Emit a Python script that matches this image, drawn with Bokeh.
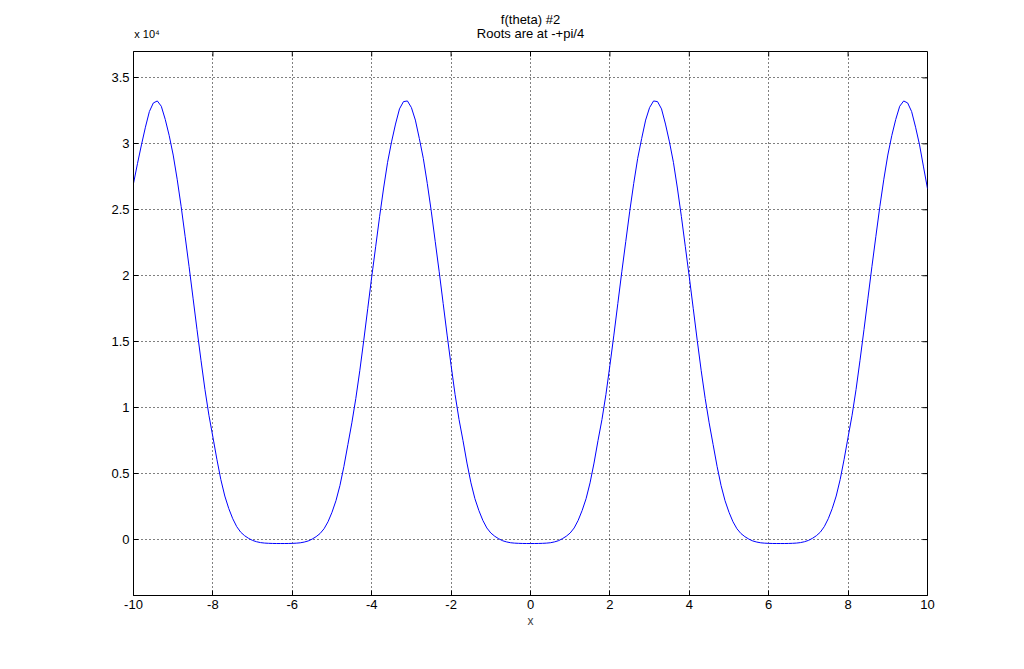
import math
from bokeh.plotting import figure
from bokeh.models import Range1d, FixedTicker, LinearAxis
from bokeh.embed import file_html
from bokeh.resources import INLINE

# ---- data ----
x_vals = [round(-10 + 0.1 * i, 1) for i in range(201)]

# y for x = -10.0 ... -0.1
y_left = [27000, 28500, 29920, 31260, 32450, 33100, 33250, 32850, 31850, 30620,
          29150, 27320, 25260, 22990, 20690, 18300, 15910, 13590, 11370, 9420,
          7770, 6090, 4550, 3300, 2350, 1580, 980, 560, 290, 90,
          -65, -165, -230, -265, -283, -294, -300, -300, -300, -296,
          -287, -273, -245, -190, -105, 35, 220, 460, 820, 1350,
          2070, 2950, 4100, 5550, 7200, 8850, 10700, 12800, 15100, 17500,
          19900, 22200, 24500, 26650, 28600, 30150, 31500, 32650, 33200, 33250,
          32750, 31800, 30400, 28900, 27000, 24900, 22600, 20300, 17900, 15500,
          13200, 11000, 9100, 7500, 5800, 4300, 3100, 2200, 1450, 880,
          500, 250, 60, -90, -180, -240, -270, -285, -295, -300]
# y for x = 0.0 ... 10.0
y_right = [-300, -300, -295, -285, -270, -240, -180, -90, 60, 250,
           500, 880, 1450, 2200, 3100, 4300, 5800, 7500, 9100, 11000,
           13200, 15500, 17900, 20300, 22600, 24900, 27000, 28900, 30400, 31800,
           32750, 33250, 33200, 32650, 31500, 30150, 28600, 26650, 24500, 22200,
           19900, 17500, 15100, 12800, 10700, 8850, 7200, 5550, 4100, 2950,
           2070, 1350, 820, 460, 220, 35, -105, -190, -245, -273,
           -287, -296, -300, -300, -300, -294, -283, -265, -230, -165,
           -65, 90, 290, 560, 980, 1580, 2350, 3300, 4550, 6090,
           7770, 9420, 11370, 13590, 15910, 18300, 20690, 22990, 25260, 27320,
           29150, 30620, 31850, 32850, 33250, 33100, 32450, 31260, 29920, 28250,
           26600]
y_vals = y_left + y_right

x_ticks = [-10, -8, -6, -4, -2, 0, 2, 4, 6, 8, 10]
x_tick_labels = ["-10", "-8", "-6", "-4", "-2", "0", "2", "4", "6", "8", "10"]
y_ticks = [0, 5000, 10000, 15000, 20000, 25000, 30000, 35000]
y_tick_labels = ["0", "0.5", "1", "1.5", "2", "2.5", "3", "3.5"]

title_line1 = "f(theta) #2"
title_line2 = "Roots are at -+pi/4"
exp_label = "x 10\u2074"
x_label = "x"

X_MIN, X_MAX = -10, 10
Y_MIN, Y_MAX = -4240, 37000
EXP_LABEL_X = -9.66   # centre of the "x 10^4" note along the top edge
TITLE_X = 0           # centre of the title along the top edge

FONT = "Liberation Sans"
FS = "13px"

p = figure(width=1024, height=669, title=None,
           x_range=Range1d(X_MIN, X_MAX), y_range=Range1d(Y_MIN, Y_MAX),
           output_backend="svg", toolbar_location=None,
           min_border_left=133, min_border_right=97,
           min_border_top=51, min_border_bottom=74)
p.background_fill_color = "white"
p.border_fill_color = "white"
p.outline_line_color = "black"
p.outline_line_alpha = 1.0
p.outline_line_width = 1

xt = FixedTicker(ticks=x_ticks)
yt = FixedTicker(ticks=y_ticks)

p.xgrid.ticker = xt
p.ygrid.ticker = yt
for g in (p.xgrid, p.ygrid):
    g.grid_line_color = "black"
    g.grid_line_dash = "1 3"
    g.grid_line_width = 1

p.line(x_vals, y_vals, line_color="#0000ff", line_width=1)

# inward ticks on the top and right edges
p.ray(x=x_ticks, y=[Y_MAX] * len(x_ticks), length=5, length_units="screen",
      angle=-math.pi / 2, line_color="black", line_width=1)
p.ray(x=[X_MAX] * len(y_ticks), y=y_ticks, length=5, length_units="screen",
      angle=math.pi, line_color="black", line_width=1)

for ax in p.xaxis:
    ax.ticker = xt
    ax.major_label_overrides = {t: l for t, l in zip(x_ticks, x_tick_labels)}
for ax in p.yaxis:
    ax.ticker = yt
    ax.major_label_overrides = {t: l for t, l in zip(y_ticks, y_tick_labels)}

for ax in p.xaxis + p.yaxis:
    ax.major_tick_in = 5
    ax.major_tick_out = 0
    ax.minor_tick_line_color = None
    ax.axis_line_color = "black"
    ax.major_tick_line_color = "black"
    ax.major_label_text_font = FONT
    ax.major_label_text_font_size = FS
    ax.major_label_text_color = "black"
p.xaxis.major_label_standoff = 4
p.yaxis.major_label_standoff = 4

p.xaxis.axis_label = x_label
p.xaxis.axis_label_text_font = FONT
p.xaxis.axis_label_text_font_size = "12px"
p.xaxis.axis_label_text_font_style = "normal"
p.xaxis.axis_label_standoff = 2


def text_axis(pos, text, size, standoff):
    ax = LinearAxis(ticker=FixedTicker(ticks=[pos]),
                    major_label_overrides={pos: text})
    ax.major_tick_line_color = None
    ax.minor_tick_line_color = None
    ax.axis_line_color = None
    ax.major_tick_in = 0
    ax.major_tick_out = 0
    ax.major_label_standoff = standoff
    ax.major_label_text_font = FONT
    ax.major_label_text_font_size = size
    ax.major_label_text_color = "black"
    return ax


# the "x 10^4" scale note (inner row above the box)
p.add_layout(text_axis(EXP_LABEL_X, exp_label, "11px", 12), "above")

# second title line on the same row, first title line as that axis' label
title_ax = text_axis(TITLE_X, title_line2, FS, -16)
title_ax.axis_label = title_line1
title_ax.axis_label_text_font = FONT
title_ax.axis_label_text_font_size = FS
title_ax.axis_label_text_font_style = "normal"
title_ax.axis_label_text_color = "black"
title_ax.axis_label_standoff = -4
p.add_layout(title_ax, "above")

open("out.html", "w").write(file_html(p, INLINE))
